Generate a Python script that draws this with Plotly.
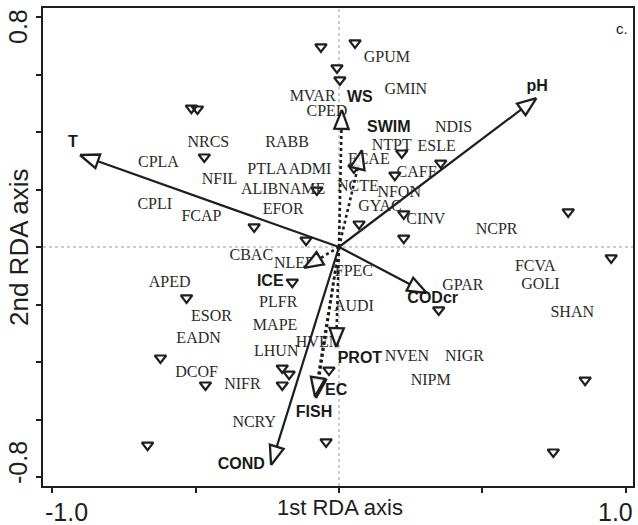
import numpy as np
import plotly.graph_objects as go

# Site scores (RDA axes 1 and 2)
site_x = [-0.063, 0.056, -0.007, 0.003, -0.515, -0.494, -0.470, 0.052, 0.219, 0.355,
          0.195, -0.077, 0.070, 0.226, 0.226, 0.800, -0.296, -0.115, 0.950, -0.163,
          -0.532, 0.348, -0.623, -0.198, -0.174, -0.198, -0.466, -0.035, 0.859, -0.668,
          -0.045, 0.748]
site_y = [0.696, 0.710, 0.623, 0.581, 0.483, 0.480, 0.313, 0.275, 0.327, 0.292,
          0.250, 0.198, 0.080, 0.115, 0.031, 0.122, 0.070, 0.024, -0.038, -0.122,
          -0.177, -0.219, -0.386, -0.421, -0.442, -0.480, -0.480, -0.428, -0.463, -0.689,
          -0.678, -0.713]

# Species scores
species = ["GPUM", "MVAR", "GMIN", "CPED", "NRCS", "RABB", "NDIS", "NTPT", "ESLE", "ECAE",
           "CPLA", "NFIL", "PTLA", "ADMI", "CAFF", "ALIBNAME", "NCTE", "NFON", "CPLI", "EFOR",
           "FCAP", "GYAC", "CINV", "NCPR", "CBAC", "NLEP", "FPEC", "APED", "FCVA", "GOLI",
           "GPAR", "PLFR", "ESOR", "SHAN", "AUDI", "MAPE", "EADN", "HVEN", "LHUN", "NVEN",
           "NIGR", "DCOF", "NIFR", "NIPM", "NCRY"]
species_x = [0.167, -0.092, 0.233, -0.042, -0.456, -0.181, 0.400, 0.184, 0.341, 0.104,
             -0.630, -0.417, -0.250, -0.101, 0.271, -0.195, 0.066, 0.210, -0.643, -0.195,
             -0.480, 0.143, 0.303, 0.550, -0.306, -0.157, 0.052, -0.591, 0.685, 0.703,
             0.432, -0.212, -0.445, 0.814, 0.052, -0.223, -0.490, -0.073, -0.219, 0.237,
             0.438, -0.497, -0.337, 0.320, -0.296]
species_y = [0.657, 0.522, 0.546, 0.470, 0.362, 0.362, 0.414, 0.351, 0.348, 0.303,
             0.292, 0.233, 0.268, 0.268, 0.257, 0.198, 0.209, 0.188, 0.146, 0.129,
             0.104, 0.139, 0.094, 0.059, -0.031, -0.059, -0.087, -0.125, -0.070, -0.132,
             -0.134, -0.195, -0.243, -0.230, -0.209, -0.275, -0.320, -0.334, -0.365, -0.383,
             -0.383, -0.438, -0.480, -0.466, -0.612]

# Environmental variables: biplot arrow ends and label anchors
env_names = ["T", "pH", "CODcr", "COND", "ICE", "WS", "SWIM", "PROT", "EC", "FISH"]
env_x = [-0.904, 0.689, 0.306, -0.237, -0.122, 0.010, 0.080, -0.010, -0.080, -0.084]
env_y = [0.320, 0.518, -0.160, -0.758, -0.073, 0.477, 0.337, -0.348, -0.525, -0.520]
env_label_x = [-0.929, 0.692, 0.327, -0.341, -0.240, 0.073, 0.174, 0.073, -0.010, -0.087]
env_label_y = [0.362, 0.557, -0.180, -0.758, -0.122, 0.518, 0.414, -0.390, -0.501, -0.577]
# Variables drawn with dotted shafts (supplementary)
dotted_vars = {"ICE", "WS", "SWIM", "PROT", "EC", "FISH"}

X_RANGE = [-1.0330, 1.0261]
Y_RANGE = [-0.8313, 0.8313]
INK = "#1e1e1e"
SANS = "Liberation Sans, Arial, sans-serif"
SERIF = "Liberation Serif, Times New Roman, serif"

fig = go.Figure()

# reference lines through the origin
for shp in (dict(x0=0, x1=0, y0=Y_RANGE[0], y1=Y_RANGE[1]),
            dict(x0=X_RANGE[0], x1=X_RANGE[1], y0=0, y1=0)):
    fig.add_shape(type="line", xref="x", yref="y", line=dict(color="#9a9a9a", width=1, dash="dot"),
                  layer="below", **shp)

# sites
fig.add_trace(go.Scatter(
    x=site_x, y=site_y, mode="markers",
    marker=dict(symbol="triangle-down-open", size=10, color=INK, line=dict(width=2.2, color=INK)),
    hoverinfo="skip"))

# species names
fig.add_trace(go.Scatter(
    x=species_x, y=species_y, mode="text", text=species,
    textfont=dict(family=SERIF, size=16, color="#2a2a2a"),
    textposition="middle center", hoverinfo="skip"))

# environmental arrows with open triangular heads
HEAD_LEN = 0.066
HEAD_HALF = 0.025
for name, ex, ey in zip(env_names, env_x, env_y):
    v = np.array([ex, ey])
    u = v / np.linalg.norm(v)
    p = np.array([-u[1], u[0]])
    base = v - HEAD_LEN * u
    dotted = name in dotted_vars
    fig.add_trace(go.Scatter(
        x=[0, base[0]], y=[0, base[1]], mode="lines",
        line=dict(color=INK, width=2.6 if dotted else 2.2, dash="dot" if dotted else "solid"),
        hoverinfo="skip"))
    tri = np.array([v, base + HEAD_HALF * p, base - HEAD_HALF * p, v])
    fig.add_trace(go.Scatter(
        x=tri[:, 0], y=tri[:, 1], mode="lines", fill="toself", fillcolor="rgba(255,255,255,0.85)",
        line=dict(color=INK, width=2.3), hoverinfo="skip"))

# environmental variable names
fig.add_trace(go.Scatter(
    x=env_label_x, y=env_label_y, mode="text", text=env_names,
    textfont=dict(family=SANS, size=16, color="#1a1a1a", weight="bold"),
    textposition="middle center", hoverinfo="skip"))

annotations = [
    dict(text="-1.0", x=-1.0, y=0, xref="x", yref="paper", yanchor="top", xanchor="center",
         xshift=14, yshift=-10, font=dict(family=SANS, size=25, color=INK)),
    dict(text="1.0", x=1.0, y=0, xref="x", yref="paper", yanchor="top", xanchor="center",
         xshift=-10, yshift=-10, font=dict(family=SANS, size=25, color=INK)),
    dict(text="0.8", x=0, y=0.8, xref="paper", yref="y", xanchor="center", yanchor="middle",
         xshift=-25, yshift=-10, textangle=-90, font=dict(family=SANS, size=25, color=INK)),
    dict(text="-0.8", x=0, y=-0.8, xref="paper", yref="y", xanchor="center", yanchor="middle",
         xshift=-25, yshift=14, textangle=-90, font=dict(family=SANS, size=25, color=INK)),
    dict(text="1st RDA axis", x=0, y=0, xref="x", yref="paper", yanchor="middle", xanchor="center",
         xshift=1, yshift=-21, font=dict(family=SANS, size=22, color=INK)),
    dict(text="2nd RDA axis", x=0, y=0, xref="paper", yref="y", xanchor="center", yanchor="middle",
         xshift=-24, textangle=-90, font=dict(family=SANS, size=26, color=INK)),
    dict(text="c.", x=1, y=1, xref="paper", yref="paper", xanchor="center", yanchor="middle",
         xshift=-11, yshift=-20, font=dict(family=SANS, size=15, color=INK)),
]
for a in annotations:
    a["showarrow"] = False

fig.update_layout(
    width=638, height=525,
    margin=dict(l=43, r=3, t=8, b=39),
    paper_bgcolor="white", plot_bgcolor="white",
    showlegend=False,
    annotations=annotations,
    xaxis=dict(range=X_RANGE, tickvals=[-1.0, -0.5, 0, 0.5, 1.0], ticktext=[""] * 5,
               ticks="outside", ticklen=5, tickwidth=1.5, tickcolor=INK,
               showline=True, linecolor=INK, linewidth=1.5, mirror=True,
               showgrid=False, zeroline=False, fixedrange=True),
    yaxis=dict(range=Y_RANGE, tickvals=[-0.8, -0.6, -0.4, -0.2, 0, 0.2, 0.4, 0.6, 0.8],
               ticktext=[""] * 9,
               ticks="outside", ticklen=5, tickwidth=1.5, tickcolor=INK,
               showline=True, linecolor=INK, linewidth=1.5, mirror=True,
               showgrid=False, zeroline=False, fixedrange=True),
)

fig.write_html("out.html")
